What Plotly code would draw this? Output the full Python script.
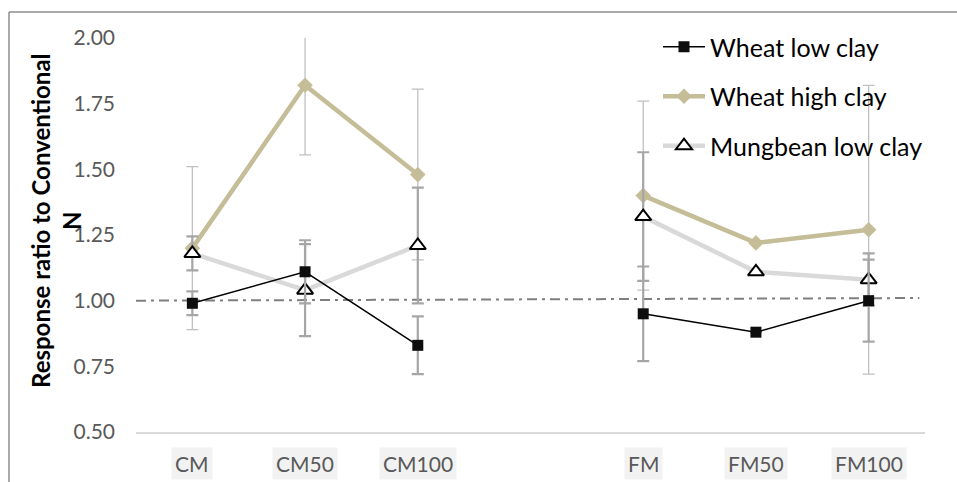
import plotly.graph_objects as go

# Treatments along the x axis; the blank slot separates the two groups
categories = ["CM", "CM50", "CM100", " ", "FM", "FM50", "FM100"]

# Response ratios (None = no observation in the blank slot)
wheat_low = [0.99, 1.11, 0.83, None, 0.95, 0.88, 1.00]
wheat_high = [1.20, 1.82, 1.48, None, 1.40, 1.22, 1.27]
mungbean_low = [1.18, 1.04, 1.21, None, 1.32, 1.11, 1.08]

# Error bar half-widths (None = no bar)
wheat_low_err = [0.045, 0.12, 0.11, None, 0.18, None, 0.156]
wheat_high_err = [0.31, 0.265, 0.325, None, 0.36, None, 0.55]
mungbean_low_err = [0.065, 0.175, 0.22, None, 0.245, None, 0.10]

y_ticks = [0.50, 0.75, 1.00, 1.25, 1.50, 1.75, 2.00]
y_range = [0.50, 2.00]
ref_level = [1.00, 1.01]  # dash-dot "no change" reference line, left/right ends

# Figure geometry (pixels)
W, H = 957, 482
L, R, T, B = 136, 32, 38, 50
PW, PH = W - L - R, H - T - B


def px_x(px):
    return (px - L) / PW


def px_y(py):
    return (H - B - py) / PH


FONT = "Lato"
TAN = "#c4bd97"
LIGHT = "#d9d9d9"

fig = go.Figure()

fig.add_trace(go.Scatter(
    x=categories, y=wheat_high, name="Wheat high clay", mode="lines+markers",
    connectgaps=False, legendrank=2, legendgroup="b",
    line=dict(color=TAN, width=4.5),
    marker=dict(symbol="diamond", size=12, color=TAN),
    error_y=dict(type="data", array=wheat_high_err, symmetric=True,
                 color="#c0c0c0", thickness=1.3, width=6),
))
fig.add_trace(go.Scatter(
    x=categories, y=mungbean_low, name="Mungbean low clay", mode="lines+markers",
    connectgaps=False, legendrank=3, legendgroup="c",
    line=dict(color=LIGHT, width=4.5),
    marker=dict(symbol="triangle-up", size=14, color="white",
                line=dict(color="black", width=2)),
    error_y=dict(type="data", array=mungbean_low_err, symmetric=True,
                 color="#a6a6a6", thickness=2.2, width=6),
))
fig.add_trace(go.Scatter(
    x=categories, y=wheat_low, name="Wheat low clay", mode="lines+markers",
    connectgaps=False, legendrank=1, legendgroup="a",
    line=dict(color="black", width=1.5),
    marker=dict(symbol="square", size=11, color="#0d0d0d"),
    error_y=dict(type="data", array=wheat_low_err, symmetric=True,
                 color="#a6a6a6", thickness=2.2, width=6),
))

# Reference line at a ratio of 1
fig.add_shape(type="line", xref="x", yref="y",
              x0=-0.5, x1=6.45, y0=ref_level[0], y1=ref_level[1],
              line=dict(color="#7f7f7f", width=2, dash="10px,5px,3px,5px"),
              layer="below")

# Outer chart frame (left and top edges)
fig.add_shape(type="line", xref="paper", yref="paper",
              x0=px_x(9), x1=px_x(9), y0=px_y(12), y1=px_y(H + 5),
              line=dict(color="#8c8c8c", width=1.5))
fig.add_shape(type="line", xref="paper", yref="paper",
              x0=px_x(9), x1=px_x(W + 5), y0=px_y(12), y1=px_y(12),
              line=dict(color="#8c8c8c", width=1.5))

# Category labels with shaded backgrounds
for c in categories:
    if c.strip():
        fig.add_annotation(x=c, xref="x", y=px_y(463), yref="paper",
                           text=c, showarrow=False, yanchor="middle",
                           font=dict(family=FONT, size=21, color="#595959"),
                           bgcolor="#f2f2f2", borderpad=3)

# Two-line y-axis title
fig.add_annotation(x=px_x(56), y=px_y(221), xref="paper", yref="paper",
                   xanchor="center", yanchor="middle",
                   text="<b>Response ratio to Conventional<br>N</b>",
                   textangle=-90, showarrow=False,
                   font=dict(family=FONT, size=24, color="black"))

fig.update_layout(
    width=W, height=H,
    margin=dict(l=L, r=R, t=T, b=B),
    paper_bgcolor="white", plot_bgcolor="white",
    font=dict(family=FONT, color="#595959"),
    showlegend=True,
    legend=dict(x=px_x(658), y=px_y(24), xanchor="left", yanchor="top",
                font=dict(family=FONT, size=25, color="black"),
                bgcolor="rgba(0,0,0,0)", tracegroupgap=14, itemwidth=42),
    xaxis=dict(type="category", categoryorder="array", categoryarray=categories,
               range=[-0.5, 6.5], showgrid=False, zeroline=False,
               showticklabels=False, ticks="",
               showline=True, linecolor=LIGHT, linewidth=2),
    yaxis=dict(range=y_range, tickvals=y_ticks,
               ticktext=[f"{v:.2f}" for v in y_ticks],
               showgrid=False, zeroline=False, showline=False, ticks="",
               ticklabelstandoff=20,
               tickfont=dict(family=FONT, size=21, color="#595959")),
)

fig.write_html("out.html")
